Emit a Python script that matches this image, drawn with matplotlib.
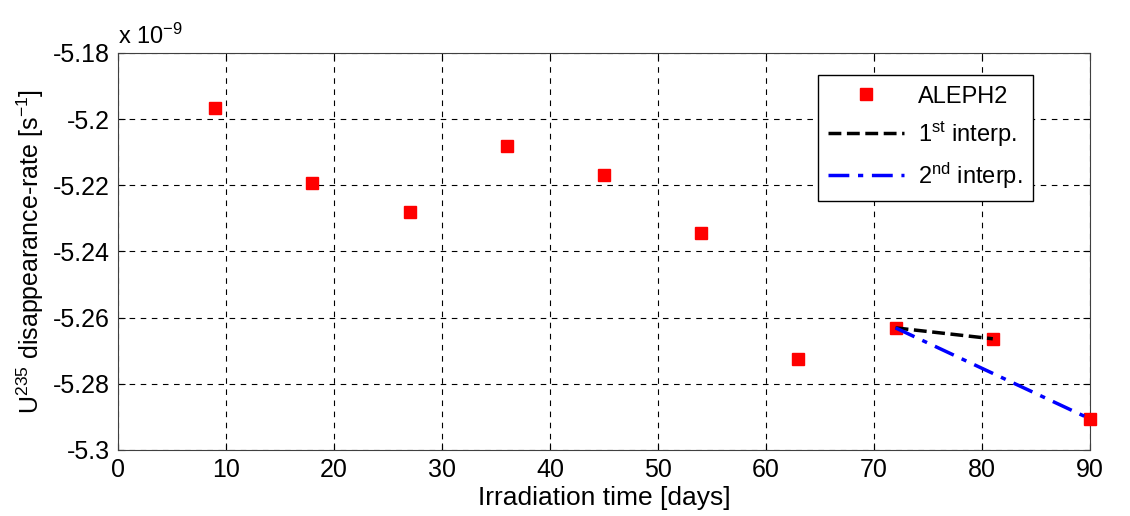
import matplotlib
matplotlib.use("Agg")
import matplotlib.pyplot as plt

plt.rcParams['font.family'] = ['Liberation Sans', 'DejaVu Sans']
plt.rcParams['mathtext.default'] = 'regular'

# data (y in units of 1e-9 s^-1)
days = [9, 18, 27, 36, 45, 54, 63, 72, 81, 90]
rate = [-5.1966, -5.2193, -5.2280, -5.2081, -5.2169, -5.2344, -5.2725, -5.2631, -5.2664, -5.2906]
interp1_x = [72, 81]
interp1_y = [-5.2631, -5.2664]
interp2_x = [72, 90]
interp2_y = [-5.2631, -5.2906]

fig = plt.figure(figsize=(11.3, 5.16), dpi=100)
ax = fig.add_axes([0.1044, 0.128, 0.8602, 0.7693])

ax.plot(days, rate, 's', color='red', markersize=8.5, label='ALEPH2', zorder=3, clip_on=False)
ax.plot(interp1_x, interp1_y, '--', color='black', lw=2.5, label='1$^{st}$ interp.', zorder=4)
ax.plot(interp2_x, interp2_y, color='blue', lw=2.5, linestyle=(0, (6, 2.5, 1.5, 2.5)),
        label='2$^{nd}$ interp.', zorder=4)

ax.set_xlim(0, 90)
ax.set_ylim(-5.3, -5.18)
ax.set_xticks(range(0, 91, 10))
ax.set_yticks([-5.3, -5.28, -5.26, -5.24, -5.22, -5.2, -5.18])
ax.set_yticklabels(['-5.3', '-5.28', '-5.26', '-5.24', '-5.22', '-5.2', '-5.18'])
ax.tick_params(direction='in', labelsize=18, length=5, top=True, right=True, pad=6)
ax.grid(True, color='black', linestyle=(0, (5, 5)), lw=0.8)
for s in ax.spines.values():
    s.set_color('#404040')

ax.set_xlabel('Irradiation time [days]', fontsize=19, labelpad=3)
ax.set_ylabel('U$^{235}$ disappearance-rate [s$^{-1}$]', fontsize=18, labelpad=5)
ax.text(0, 1.01, 'x 10$^{-9}$', transform=ax.transAxes, fontsize=17, va='bottom', ha='left')

leg = ax.legend(loc='upper right', bbox_to_anchor=(0.9414, 0.9446), fontsize=17,
                fancybox=False, framealpha=1, edgecolor='black', handlelength=3.2,
                borderpad=0.45, labelspacing=0.5, handletextpad=0.6, borderaxespad=0)
leg.get_frame().set_linewidth(1.0)

fig.savefig('out.png', dpi=100)
